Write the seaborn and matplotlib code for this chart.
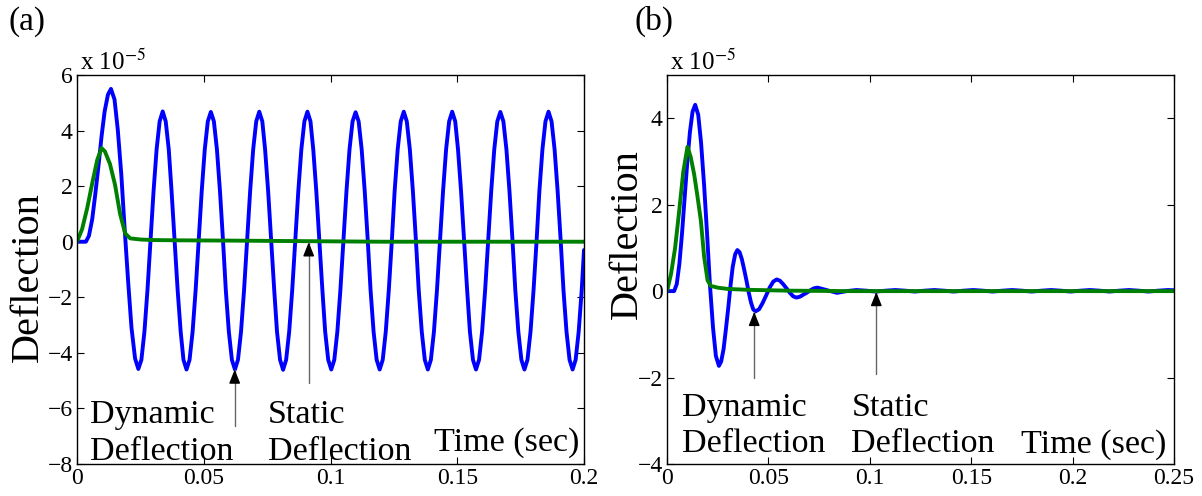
import matplotlib
matplotlib.use("Agg")
import matplotlib.pyplot as plt
import seaborn as sns

# ---- panel (a): undamped response (deflection in units of 1e-5) ----
a_time_blue = [
    0, 0.002, 0.0035, 0.0047, 0.0060, 0.0072, 0.0085, 0.0097, 0.0109, 0.0122, 0.0134,
    0.0148, 0.0161, 0.0175, 0.0188, 0.0202, 0.0215, 0.0229, 0.0242,
    0.0254, 0.0266, 0.0278, 0.0290, 0.0302, 0.0314, 0.0326, 0.0338,
    0.0350, 0.0362, 0.0373, 0.0385, 0.0397, 0.0409, 0.0420, 0.0432,
    0.0444, 0.0456, 0.0468, 0.0480, 0.0492, 0.0504, 0.0516, 0.0528,
    0.0540, 0.0552, 0.0564, 0.0576, 0.0587, 0.0599, 0.0611, 0.0623,
    0.0635, 0.0647, 0.0659, 0.0671, 0.0683, 0.0695, 0.0707, 0.0719,
    0.0731, 0.0742, 0.0754, 0.0766, 0.0778, 0.0789, 0.0801, 0.0813,
    0.0825, 0.0837, 0.0849, 0.0861, 0.0873, 0.0885, 0.0897, 0.0909,
    0.0921, 0.0932, 0.0944, 0.0956, 0.0968, 0.0979, 0.0991, 0.1003,
    0.1015, 0.1027, 0.1039, 0.1051, 0.1063, 0.1075, 0.1087, 0.1099,
    0.1111, 0.1123, 0.1135, 0.1147, 0.1158, 0.1170, 0.1182, 0.1194,
    0.1206, 0.1218, 0.1230, 0.1242, 0.1253, 0.1265, 0.1277, 0.1289,
    0.1301, 0.1313, 0.1325, 0.1337, 0.1348, 0.1360, 0.1372, 0.1384,
    0.1396, 0.1408, 0.1420, 0.1432, 0.1444, 0.1456, 0.1468, 0.1480,
    0.1492, 0.1503, 0.1515, 0.1527, 0.1539, 0.1550, 0.1562, 0.1574,
    0.1586, 0.1598, 0.1610, 0.1622, 0.1634, 0.1646, 0.1658, 0.1670,
    0.1682, 0.1694, 0.1706, 0.1718, 0.1729, 0.1741, 0.1753, 0.1765,
    0.1777, 0.1789, 0.1801, 0.1813, 0.1824, 0.1836, 0.1848, 0.1860,
    0.1872, 0.1884, 0.1896, 0.1908, 0.1919, 0.1931, 0.1943, 0.1955,
    0.1967, 0.1979, 0.1991, 0.2000,
]
a_defl_blue = [
    0, 0.0, 0.0, 0.21, 0.81, 1.7, 2.75, 3.8, 4.69, 5.29, 5.5,
    5.12, 4.02, 2.39, 0.46, -1.47, -3.10, -4.2, -4.58,
    -4.25, -3.24, -1.74, 0.04, 1.82, 3.32, 4.33, 4.69,
    4.33, 3.32, 1.82, 0.04, -1.74, -3.24, -4.25, -4.6,
    -4.25, -3.24, -1.74, 0.04, 1.82, 3.32, 4.33, 4.67,
    4.33, 3.32, 1.82, 0.04, -1.74, -3.24, -4.25, -4.6,
    -4.25, -3.24, -1.74, 0.04, 1.82, 3.32, 4.33, 4.68,
    4.33, 3.32, 1.82, 0.04, -1.74, -3.24, -4.25, -4.61,
    -4.25, -3.24, -1.74, 0.04, 1.82, 3.32, 4.33, 4.68,
    4.33, 3.32, 1.82, 0.04, -1.74, -3.24, -4.25, -4.6,
    -4.25, -3.24, -1.74, 0.04, 1.82, 3.32, 4.33, 4.66,
    4.33, 3.32, 1.82, 0.04, -1.74, -3.24, -4.25, -4.6,
    -4.25, -3.24, -1.74, 0.04, 1.82, 3.32, 4.33, 4.68,
    4.33, 3.32, 1.82, 0.04, -1.74, -3.24, -4.25, -4.6,
    -4.25, -3.24, -1.74, 0.04, 1.82, 3.32, 4.33, 4.68,
    4.33, 3.32, 1.82, 0.04, -1.74, -3.24, -4.25, -4.6,
    -4.25, -3.24, -1.74, 0.04, 1.82, 3.32, 4.33, 4.67,
    4.33, 3.32, 1.82, 0.04, -1.74, -3.24, -4.25, -4.6,
    -4.25, -3.24, -1.74, 0.04, 1.82, 3.32, 4.33, 4.68,
    4.33, 3.32, 1.82, 0.04, -1.74, -3.24, -4.25, -4.6,
    -4.25, -3.24, -1.74, -0.3,
]
a_time_green = [0, 0.002, 0.004, 0.006, 0.008, 0.0097, 0.011, 0.013, 0.015,
                0.017, 0.019, 0.021, 0.025, 0.030, 0.040, 0.060, 0.090, 0.120, 0.200]
a_defl_green = [0, 0.45, 1.2, 2.1, 2.95, 3.37, 3.25, 2.8, 2.05,
                1.0, 0.3, 0.12, 0.08, 0.06, 0.05, 0.04, 0.02, 0.0, 0.0]

# ---- panel (b): damped response ----
b_time_blue = [
    0, 0.002, 0.0035, 0.0048, 0.0061, 0.0074, 0.0087, 0.0100, 0.0113, 0.0126, 0.0139,
    0.0154, 0.0168, 0.0183, 0.0198, 0.0212, 0.0227, 0.0241, 0.0256,
    0.0267, 0.0279, 0.0290, 0.0302, 0.0313, 0.0324, 0.0336, 0.0347,
    0.0358, 0.0369, 0.0380, 0.0392, 0.0403, 0.0414, 0.0425, 0.0436,
    0.0454, 0.0471, 0.0489, 0.0506, 0.0524, 0.0541,
    0.0557, 0.0573, 0.0590, 0.0606, 0.0622, 0.0638,
    0.0655, 0.0673, 0.0690, 0.0707, 0.0725, 0.0742,
    0.0790, 0.0838, 0.0886, 0.0934, 0.0982, 0.1030, 0.1078, 0.1126,
    0.1174, 0.1222, 0.1270, 0.1318, 0.1366, 0.1414, 0.1462, 0.1510,
    0.1558, 0.1606, 0.1654, 0.1702, 0.1750, 0.1798, 0.1846, 0.1894,
    0.1942, 0.1990, 0.2038, 0.2086, 0.2134, 0.2182, 0.2230, 0.2278,
    0.2326, 0.2374, 0.2422, 0.2470, 0.2500,
]
b_defl_blue = [
    0, 0.0, 0.0, 0.16, 0.63, 1.33, 2.16, 2.98, 3.68, 4.15, 4.31,
    4.08, 3.43, 2.45, 1.29, 0.13, -0.85, -1.5, -1.73,
    -1.63, -1.34, -0.9, -0.39, 0.12, 0.56, 0.85, 0.95,
    0.90, 0.74, 0.51, 0.24, -0.03, -0.26, -0.42, -0.47,
    -0.42, -0.28, -0.1, 0.08, 0.22, 0.27,
    0.24, 0.16, 0.06, -0.04, -0.12, -0.15,
    -0.13, -0.08, -0.035, 0.02, 0.065, 0.08,
    0.02, -0.04, 0.0, 0.025, 0.01, -0.01, 0.01, 0.025,
    0.01, -0.01, 0.01, 0.025, 0.01, -0.01, 0.01, 0.025,
    0.01, -0.01, 0.01, 0.025, 0.01, -0.01, 0.01, 0.025,
    0.01, -0.01, 0.01, 0.025, 0.01, -0.01, 0.01, 0.025,
    0.01, -0.01, 0.01, 0.025, 0.02,
]
b_time_green = [0, 0.002, 0.004, 0.006, 0.008, 0.0101, 0.0117, 0.0134, 0.0150,
                0.0167, 0.0183, 0.0200, 0.0216, 0.025, 0.030, 0.040, 0.060, 0.090, 0.250]
b_defl_green = [0, 0.4, 1.0, 1.85, 2.75, 3.34, 3.1, 2.7, 2.2,
                1.63, 0.8, 0.25, 0.12, 0.08, 0.05, 0.03, 0.01, 0.0, 0.0]

# annotation anchors: (x, arrow tip, arrow tail)
a_arrows = [(0.0622, -4.6, -6.62), (0.0914, -0.02, -5.07)]
b_arrows = [(0.0430, -0.48, -2.0), (0.1032, -0.02, -1.92)]
a_text_x = [0.0051, 0.0754, 0.141]
b_text_x = [0.0072, 0.0909, 0.1747]
a_text_y = [-6.52, -7.86, -7.53]
b_text_y = [-2.88, -3.73, -3.73]

BLUE = "#0000ff"
GREEN = "#008000"

sns.set_style("ticks")
plt.rcParams["font.family"] = ["Liberation Serif", "DejaVu Serif"]
plt.rcParams["mathtext.fontset"] = "stix"
for key in ["text.color", "axes.labelcolor", "xtick.color", "ytick.color", "axes.edgecolor"]:
    plt.rcParams[key] = "black"

W, H = 1202, 496
fig = plt.figure(figsize=(W / 100, H / 100), dpi=100)
axA = fig.add_axes([77 / W, 32 / H, 507 / W, 389 / H])
axB = fig.add_axes([667 / W, 32 / H, 507 / W, 389 / H])


def panel(ax, tb, yb, tg, yg, xmax, xticks, xlabels, ylim, yticks, arrows, tx, ty,
          ylab_pos, tag, tag_x):
    sns.lineplot(x=tb, y=yb, ax=ax, color=BLUE, linewidth=2.8, estimator=None, sort=False)
    sns.lineplot(x=tg, y=yg, ax=ax, color=GREEN, linewidth=2.8, estimator=None, sort=False)
    ax.set_xlim(0, xmax)
    ax.set_ylim(*ylim)
    ax.set_xticks(xticks, xlabels)
    ax.set_yticks(yticks)
    ax.tick_params(direction="in", top=True, right=True, length=5, width=0.8,
                   labelsize=17, pad=3)
    for s in ax.spines.values():
        s.set_linewidth(1.0)
    ax.set_xlabel("")
    ax.set_ylabel("Deflection", fontsize=29, va="center", ha="center")
    ax.yaxis.set_label_coords(*ylab_pos)

    span = ylim[1] - ylim[0]
    for x, tip, tail in arrows:
        ax.plot([x, x], [tail, tip], color="0.4", lw=1.0)
        ax.annotate("", xy=(x, tip), xytext=(x, tip - span * 0.025),
                    arrowprops=dict(arrowstyle="-|>,head_length=0.7,head_width=0.28",
                                    color="black", lw=1.0, shrinkA=0, shrinkB=0,
                                    mutation_scale=12))

    fs = 24.5
    ax.text(tx[0], ty[0], "Dynamic", fontsize=fs, va="baseline")
    ax.text(tx[0], ty[1], "Deflection", fontsize=fs, va="baseline")
    ax.text(tx[1], ty[0], "Static", fontsize=fs, va="baseline")
    ax.text(tx[1], ty[1], "Deflection", fontsize=fs, va="baseline")
    ax.text(tx[2], ty[2], "Time (sec)", fontsize=fs, va="baseline")

    ax.text(0.005, 1.013, r"x 10$^{-5}$", transform=ax.transAxes, fontsize=18,
            va="baseline", ha="left")
    fig.text(tag_x, 1 - 30 / H, tag, fontsize=24, va="baseline", ha="left")


panel(axA, a_time_blue, a_defl_blue, a_time_green, a_defl_green, 0.2,
      [0, 0.05, 0.1, 0.15, 0.2], ["0", "0.05", "0.1", "0.15", "0.2"],
      (-8, 6), [-8, -6, -4, -2, 0, 2, 4, 6], a_arrows, a_text_x, a_text_y,
      (-0.0966, 0.481), "(a)", 8 / W)
panel(axB, b_time_blue, b_defl_blue, b_time_green, b_defl_green, 0.25,
      [0, 0.05, 0.1, 0.15, 0.2, 0.25], ["0", "0.05", "0.1", "0.15", "0.2", "0.25"],
      (-4, 5), [-4, -2, 0, 2, 4], b_arrows, b_text_x, b_text_y,
      (-0.0787, 0.591), "(b)", 635 / W)

fig.savefig("out.png", dpi=100)
